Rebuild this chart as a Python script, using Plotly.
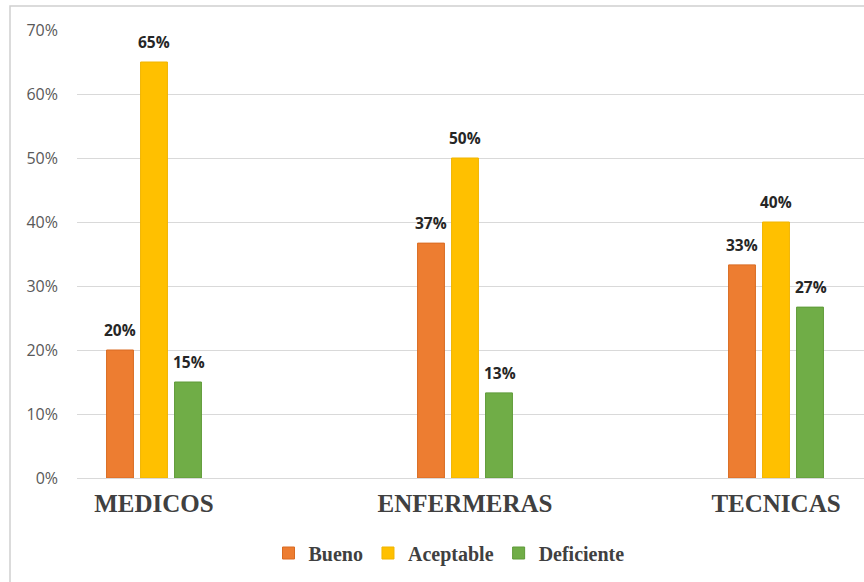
import plotly.graph_objects as go

categories = ["MEDICOS", "ENFERMERAS", "TECNICAS"]
series_names = ["Bueno", "Aceptable", "Deficiente"]
bueno = [0.20, 0.367, 0.333]
aceptable = [0.65, 0.50, 0.40]
deficiente = [0.15, 0.133, 0.267]
y_ticks = [0, 0.1, 0.2, 0.3, 0.4, 0.5, 0.6, 0.7]

values = [bueno, aceptable, deficiente]
colors = ["#ED7D31", "#FFC000", "#70AD47"]
edges = ["#D96B22", "#F0B400", "#5E9A38"]

fig = go.Figure()
for name, vals, c, e in zip(series_names, values, colors, edges):
    fig.add_trace(go.Bar(
        x=categories, y=vals, name=f"<b>{name}</b>",
        marker=dict(color=c, line=dict(color=e, width=1)),
    ))

# data labels
for i, vals in enumerate(values):
    for cat, v in zip(categories, vals):
        fig.add_annotation(
            x=cat, y=v, text=f"<b>{round(v*100):d}%</b>",
            showarrow=False, xshift=(i - 1) * 34.5, yshift=20,
            font=dict(family="Open Sans", size=15.5, color="#262626"),
        )

fig.add_shape(type="rect", xref="paper", yref="paper",
              x0=(10 - 77) / 787, x1=1.2, y0=-0.6, y1=(478 - 6) / 448,
              line=dict(color="#D0D0D0", width=1.5), layer="below")

fig.update_layout(
    width=864, height=582,
    margin=dict(l=77, r=0, t=30, b=104),
    paper_bgcolor="white", plot_bgcolor="white",
    barmode="group", bargap=0.672, bargroupgap=0.21,
    showlegend=True,
    legend=dict(orientation="h", x=(449 - 77) / 787, xanchor="center",
                y=(478 - 553) / 448, yanchor="middle",
                font=dict(family="Liberation Serif", size=20, color="#404040"),
                itemwidth=30, tracegroupgap=0),
    xaxis=dict(range=[-77 / 311, -77 / 311 + 787 / 311], showgrid=False,
               showline=False, ticks="",
               tickvals=categories, ticktext=[f"<b>{c}</b>" for c in categories],
               tickfont=dict(family="Liberation Serif", size=25, color="#404040"),
               ticklabelstandoff=8),
    yaxis=dict(range=[0, 0.7], tickvals=y_ticks, tickformat=".0%",
               showgrid=True, gridcolor="#D9D9D9", gridwidth=1,
               zeroline=True, zerolinecolor="#D9D9D9", zerolinewidth=1,
               showline=False, ticks="",
               tickfont=dict(family="Open Sans", size=16, color="#595959"),
               ticklabelstandoff=18),
)

fig.write_html("out.html")
